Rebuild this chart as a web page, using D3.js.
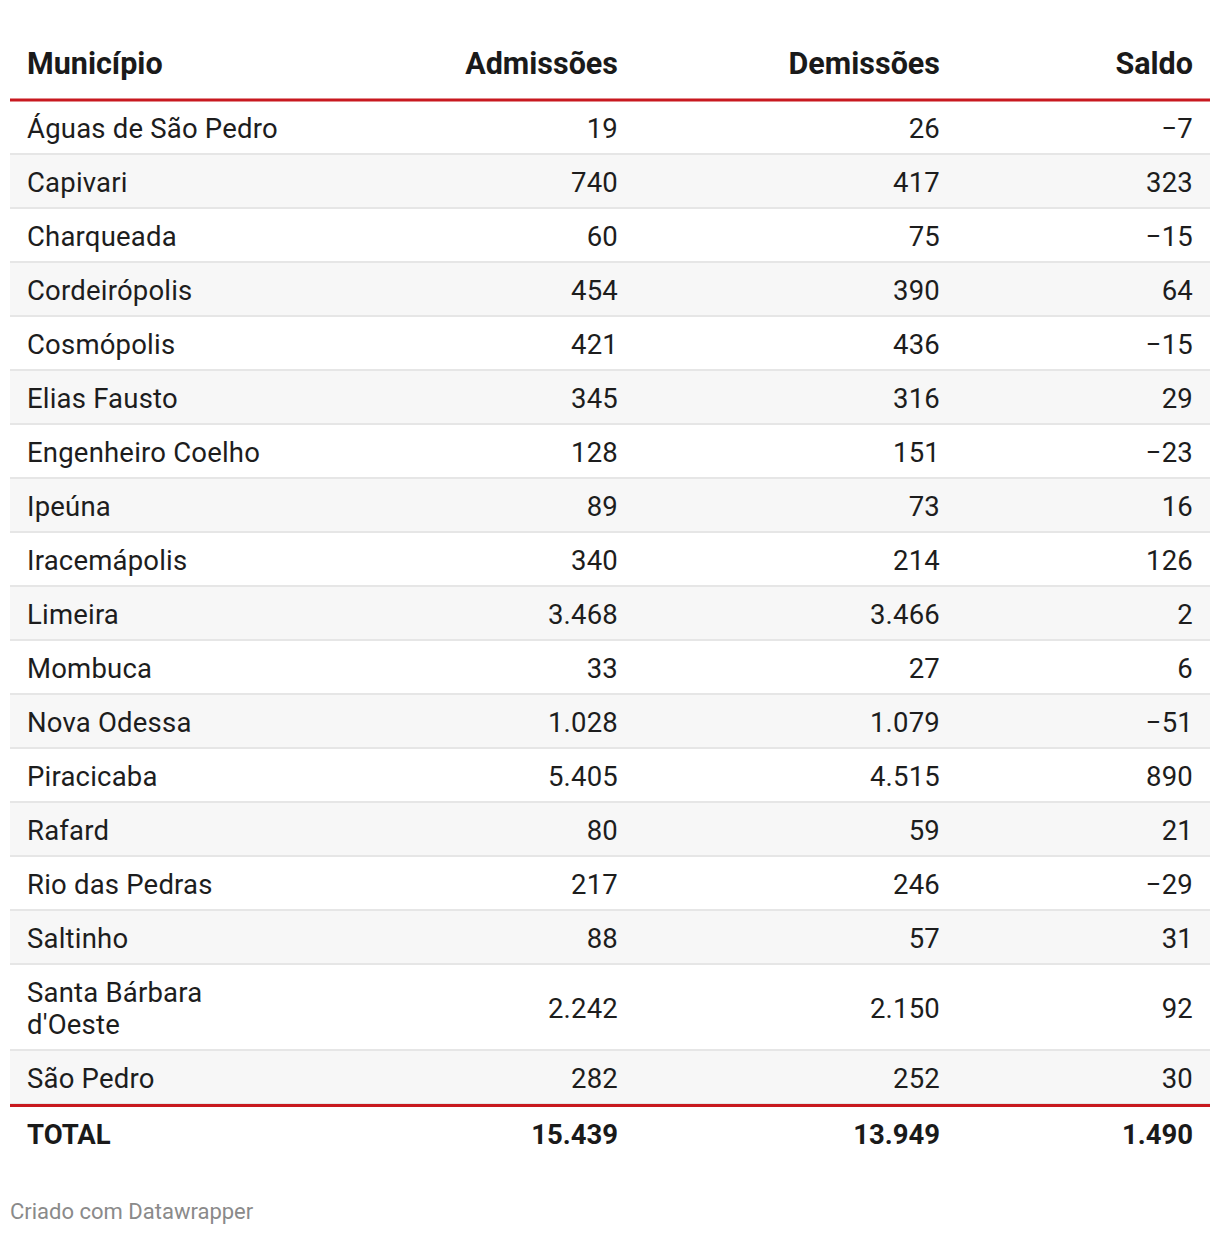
<!DOCTYPE html>
<html>
<head>
<meta charset="utf-8">
<script src="https://cdn.jsdelivr.net/npm/d3@7"></script>
<style>
  body { margin: 0; background: #fff; }
  svg { font-family: Roboto, "Noto Sans", sans-serif; display: block; }
</style>
</head>
<body>
<svg id="chart" width="1220" height="1236"></svg>
<script>
// table columns
const columns = ["Município", "Admissões", "Demissões", "Saldo"]

const municipios = ["Águas de São Pedro", "Capivari", "Charqueada", "Cordeirópolis", "Cosmópolis",
    "Elias Fausto", "Engenheiro Coelho", "Ipeúna", "Iracemápolis", "Limeira", "Mombuca",
    "Nova Odessa", "Piracicaba", "Rafard", "Rio das Pedras", "Saltinho",
    "Santa Bárbara d'Oeste", "São Pedro"]
const admissoes = [19, 740, 60, 454, 421, 345, 128, 89, 340, 3468, 33, 1028, 5405, 80, 217, 88, 2242, 282]
const demissoes = [26, 417, 75, 390, 436, 316, 151, 73, 214, 3466, 27, 1079, 4515, 59, 246, 57, 2150, 252]
const saldo = [-7, 323, -15, 64, -15, 29, -23, 16, 126, 2, 6, -51, 890, 21, -29, 31, 92, 30]
const total = ["TOTAL", 15439, 13949, 1490]

const locale = d3.formatLocale({ decimal: ",", thousands: ".", grouping: [3], currency: ["R$", ""], minus: "\u2212" })
const fmt = locale.format(",d")

const svg = d3.select("#chart")
const left = 10, right = 1210
const red = "#c8191f"
const rowH = 54, lineH = 32, nameMax = 258
const fs = 27.5, ls = 0.2

// right edge of each column (first column is left aligned)
const colX = d3.scaleOrdinal().domain(columns).range([27, 618, 940, 1193])

// header
svg.append("g").selectAll("text")
    .data(columns)
    .enter().append("text")
    .attr("x", d => colX(d))
    .attr("y", 74)
    .attr("text-anchor", (d, i) => i == 0 ? "start" : "end")
    .attr("font-size", 30.5)
    .attr("font-weight", 700)
    .attr("fill", "#1a1a1a")
    .text(d => d)

// wrap names to the first column width
const measure = svg.append("text").attr("font-size", fs).attr("letter-spacing", ls).attr("visibility", "hidden")
function wrap(name) {
    let words = name.split(" "), lines = [], cur = ""
    words.forEach(w => {
        let t = cur ? cur + " " + w : w
        measure.text(t)
        if (measure.node().getComputedTextLength() > nameMax && cur) {
            lines.push(cur)
            cur = w
        } else cur = t
    })
    lines.push(cur)
    return lines
}

let rows = municipios.map((m, i) => ({
    lines: wrap(m),
    vals: [admissoes[i], demissoes[i], saldo[i]]
}))
measure.remove()

let y = 101
rows.forEach((r, i) => {
    r.top = y
    r.h = rowH + (r.lines.length - 1) * lineH
    y += r.h
})
const bodyBottom = y

const body = svg.append("g")
const row = body.selectAll("g.row")
    .data(rows)
    .enter().append("g")
    .attr("class", "row")
    .attr("transform", d => "translate(0," + d.top + ")")

row.append("rect")
    .attr("x", left)
    .attr("width", right - left)
    .attr("height", d => d.h)
    .attr("fill", (d, i) => i % 2 ? "#f7f7f7" : "#ffffff")

row.append("rect")
    .attr("x", left)
    .attr("y", d => d.h - 2)
    .attr("width", right - left)
    .attr("height", 2)
    .attr("fill", "#e6e6e6")

row.append("text")
    .attr("x", colX(columns[0]))
    .attr("font-size", fs)
    .attr("letter-spacing", ls)
    .attr("fill", "#1d1d1d")
    .selectAll("tspan")
    .data(d => d.lines)
    .enter().append("tspan")
    .attr("x", colX(columns[0]))
    .attr("y", (d, i) => 37 + i * lineH)
    .text(d => d)

row.selectAll("text.num")
    .data(d => d.vals.map(v => ({ v: v, h: d.h })))
    .enter().append("text")
    .attr("class", "num")
    .attr("x", (d, i) => colX(columns[i + 1]))
    .attr("y", d => d.h / 2 + 10)
    .attr("text-anchor", "end")
    .attr("font-size", fs)
    .attr("letter-spacing", ls)
    .attr("fill", "#1d1d1d")
    .text(d => fmt(d.v))

// red rules
svg.append("rect").attr("x", left).attr("y", 98.5).attr("width", right - left).attr("height", 3).attr("fill", red)
svg.append("rect").attr("x", left).attr("y", bodyBottom - 1).attr("width", right - left).attr("height", 3).attr("fill", red)

// total row
svg.append("g").selectAll("text")
    .data(total)
    .enter().append("text")
    .attr("x", (d, i) => colX(columns[i]))
    .attr("y", bodyBottom + 39)
    .attr("text-anchor", (d, i) => i == 0 ? "start" : "end")
    .attr("font-size", fs)
    .attr("font-weight", 700)
    .attr("fill", "#1a1a1a")
    .text(d => typeof d == "number" ? fmt(d) : d)

// footer
svg.append("text")
    .attr("x", 10)
    .attr("y", 1219)
    .attr("font-size", 22)
    .attr("fill", "#8a8a8a")
    .text("Criado com Datawrapper")
</script>
</body>
</html>
